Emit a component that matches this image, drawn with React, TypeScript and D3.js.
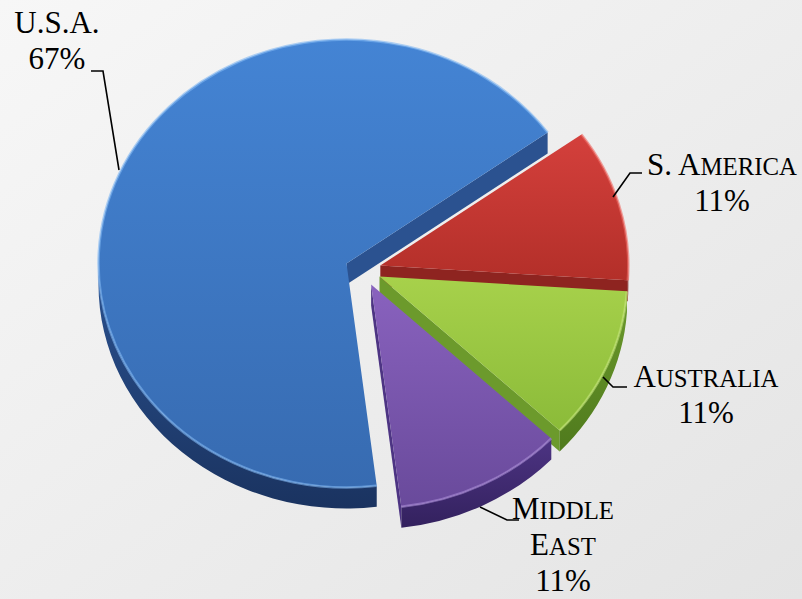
import React from "react";
import * as d3 from "d3";

const categories = ["U.S.A.", "S. America", "Australia", "Middle East"];
const values = [67, 11, 11, 11];
const percentLabels = ["67%", "11%", "11%", "11%"];

const W = 802;
const H = 599;
const CX = 363;
const CY = 270;
const RX = 248;
const RY = 224;
const DEPTH = 21;
const EXPLODE = 18;
const START_DEG = 173;

const topColors = [
  ["#4484d4", "#376bb1"],
  ["#d4403c", "#b32f29"],
  ["#a7d14b", "#8bbb39"],
  ["#8962be", "#694a9b"],
];
const sideColors = [
  ["#2b5290", "#1a3360"],
  ["#8e2420", "#6b1512"],
  ["#6c9a2c", "#4f7a1d"],
  ["#4d3483", "#33215e"],
];
const rimColors = ["#7fb6f2", "#ee6a64", "#c4e678", "#a88ad6"];

const labelLines = [
  ["U.S.A.", "67%"],
  ["S. America", "11%"],
  ["Australia", "11%"],
  ["Middle", "East", "11%"],
];
const labelPos = [
  { x: 57, y: 33 },
  { x: 722, y: 175 },
  { x: 706, y: 387 },
  { x: 563, y: 519 },
];
const leaders: [number, number][][] = [
  [[91, 71], [103, 71], [119, 170]],
  [[642, 173], [630, 173], [613, 197]],
  [[603, 377], [613, 387], [627, 387]],
  [[480, 507], [507, 520], [519, 520]],
];

const FONT = 31;
const LINE = 36;
const FAMILY = '"Liberation Serif", "Times New Roman", Times, serif';

function SmallCaps({ text }: { text: string }) {
  const parts: { t: string; small: boolean }[] = [];
  for (const ch of text) {
    const small = ch !== ch.toUpperCase();
    const last = parts[parts.length - 1];
    if (last && last.small === small) last.t += small ? ch.toUpperCase() : ch;
    else parts.push({ t: small ? ch.toUpperCase() : ch, small });
  }
  return (
    <>
      {parts.map((p, i) => (
        <tspan key={i} style={{ fontSize: p.small ? FONT * 0.8 : FONT }}>
          {p.t}
        </tspan>
      ))}
    </>
  );
}

export default function App() {
  const pie = d3
    .pie<number>()
    .sort(null)
    .startAngle((START_DEG * Math.PI) / 180)
    .endAngle((START_DEG * Math.PI) / 180 + 2 * Math.PI);
  const arcs = pie(values);

  const slices = arcs.map((a, i) => {
    const mid = (a.startAngle + a.endAngle) / 2;
    const cx = CX + EXPLODE * Math.sin(mid);
    const cy = CY - EXPLODE * (RY / RX) * Math.cos(mid);
    const pt = (ang: number, dz = 0): [number, number] => [
      cx + RX * Math.sin(ang),
      cy - RY * Math.cos(ang) + dz,
    ];
    const s = pt(a.startAngle);
    const e = pt(a.endAngle);
    const large = a.endAngle - a.startAngle > Math.PI ? 1 : 0;
    const top = `M${cx},${cy}L${s[0]},${s[1]}A${RX},${RY} 0 ${large} 1 ${e[0]},${e[1]}Z`;
    const rim = `M${s[0]},${s[1]}A${RX},${RY} 0 ${large} 1 ${e[0]},${e[1]}`;

    let wall: string | null = null;
    const twoPi = 2 * Math.PI;
    for (let k = -1; k <= 2; k++) {
      const lo = Math.PI / 2 + k * twoPi;
      const hi = (3 * Math.PI) / 2 + k * twoPi;
      const a0 = Math.max(lo, a.startAngle);
      const a1 = Math.min(hi, a.endAngle);
      if (a1 > a0 + 1e-4) {
        const p0 = pt(a0);
        const p1 = pt(a1);
        const q1 = pt(a1, DEPTH);
        const q0 = pt(a0, DEPTH);
        const lg = a1 - a0 > Math.PI ? 1 : 0;
        wall = `M${p0[0]},${p0[1]}A${RX},${RY} 0 ${lg} 1 ${p1[0]},${p1[1]}L${q1[0]},${q1[1]}A${RX},${RY} 0 ${lg} 0 ${q0[0]},${q0[1]}Z`;
      }
    }
    const faces: string[] = [];
    if (Math.sin(a.endAngle) > 0) {
      const q = pt(a.endAngle, DEPTH);
      faces.push(`M${cx},${cy}L${e[0]},${e[1]}L${q[0]},${q[1]}L${cx},${cy + DEPTH}Z`);
    }
    if (-Math.sin(a.startAngle) > 0) {
      const q = pt(a.startAngle, DEPTH);
      faces.push(`M${cx},${cy}L${s[0]},${s[1]}L${q[0]},${q[1]}L${cx},${cy + DEPTH}Z`);
    }
    return { i, top, rim, wall, faces, cy };
  });

  const line = d3.line();

  return (
    <svg
      width={W}
      height={H}
      style={{ position: "absolute", left: 0, top: 0, fontFamily: FAMILY }}
    >
      <defs>
        <linearGradient id="bg" x1="0" y1="0" x2="1" y2="1">
          <stop offset="0" stopColor="#f7f7f7" />
          <stop offset="1" stopColor="#e4e4e4" />
        </linearGradient>
        {topColors.map((c, i) => (
          <linearGradient key={i} id={`top${i}`} x1="0" y1="0" x2="0" y2="1">
            <stop offset="0" stopColor={c[0]} />
            <stop offset="1" stopColor={c[1]} />
          </linearGradient>
        ))}
        {sideColors.map((c, i) => (
          <linearGradient key={i} id={`side${i}`} x1="0" y1="0" x2="0" y2="1">
            <stop offset="0" stopColor={c[0]} />
            <stop offset="1" stopColor={c[1]} />
          </linearGradient>
        ))}
      </defs>
      <rect width={W} height={H} fill="url(#bg)" />
      {slices.map((s) =>
        s.faces.map((f, j) => <path key={`f${s.i}${j}`} d={f} fill={sideColors[s.i][0]} />)
      )}
      {slices.map((s) =>
        s.wall ? <path key={`w${s.i}`} d={s.wall} fill={`url(#side${s.i})`} /> : null
      )}
      {slices.map((s) => (
        <g key={`t${s.i}`}>
          <path d={s.top} fill={`url(#top${s.i})`} />
          <path d={s.rim} fill="none" stroke={rimColors[s.i]} strokeWidth={2.5} strokeOpacity={0.6} />
        </g>
      ))}
      {leaders.map((l, i) => (
        <path key={`l${i}`} d={line(l) || ""} fill="none" stroke="#000" strokeWidth={1.6} />
      ))}
      {labelLines.map((lines, i) => (
        <text
          key={`lab${i}`}
          textAnchor="middle"
          fill="#000"
          style={{ fontFamily: FAMILY, fontSize: FONT }}
        >
          {lines.map((ln, j) => (
            <tspan key={j} x={labelPos[i].x} y={labelPos[i].y + j * LINE}>
              {j === lines.length - 1 ? percentLabels[i] : <SmallCaps text={ln} />}
            </tspan>
          ))}
        </text>
      ))}
    </svg>
  );
}
